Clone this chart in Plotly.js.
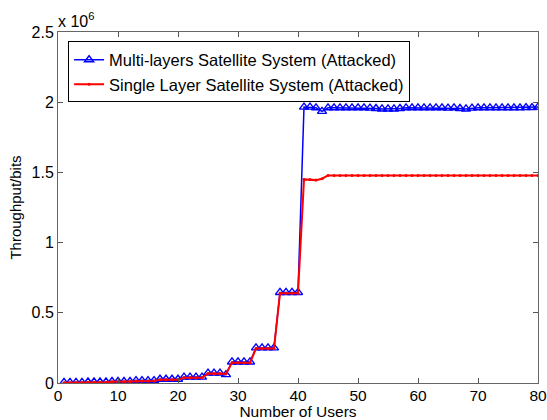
<!DOCTYPE html>
<html>
<head>
<meta charset="utf-8">
<script src="https://cdn.plot.ly/plotly-3.0.1.min.js"></script>
<style>body{margin:0;background:#fff}#chart{width:547px;height:420px}</style>
</head>
<body>
<div id="chart"></div>
<script>
// Number of users 1..80
var users = [1,2,3,4,5,6,7,8,9,10,11,12,13,14,15,16,17,18,19,20,21,22,23,24,25,26,27,28,29,30,31,32,33,34,35,36,37,38,39,40,41,42,43,44,45,46,47,48,49,50,51,52,53,54,55,56,57,58,59,60,61,62,63,64,65,66,67,68,69,70,71,72,73,74,75,76,77,78,79,80];
// Throughput in units of 1e6 bits
var multiLayer = [0.004,0.004,0.004,0.004, 0.007,0.007,0.007,0.007, 0.011,0.011,0.011,0.011, 0.017,0.017,0.017,0.017, 0.027,0.027,0.027,0.027, 0.042,0.042,0.042,0.042, 0.070,0.070,0.070,0.060, 0.150,0.150,0.150,0.150, 0.250,0.250,0.250,0.250, 0.645,0.645,0.645,0.645,
  1.965,1.965,1.960,1.935,1.960,1.960,1.960,1.960,1.960,1.960,1.960,1.958,1.955,1.952,1.952,1.952,1.955,1.960,1.960,1.960,1.960,1.960,1.960,1.960,1.958,1.960,1.955,1.952,1.958,1.960,1.960,1.960,1.960,1.960,1.960,1.960,1.960,1.962,1.962,1.965];
var singleLayer = [0.002,0.002,0.002,0.002, 0.005,0.005,0.005,0.005, 0.009,0.009,0.009,0.009, 0.014,0.014,0.014,0.014, 0.024,0.024,0.024,0.024, 0.037,0.037,0.037,0.037, 0.068,0.068,0.068,0.066, 0.145,0.145,0.145,0.145, 0.245,0.245,0.245,0.245, 0.640,0.640,0.640,0.640,
  1.450,1.450,1.445,1.455,1.478,1.478,1.478,1.478,1.478,1.478,1.478,1.478,1.478,1.478,1.478,1.478,1.478,1.478,1.478,1.478,1.478,1.478,1.478,1.478,1.478,1.478,1.478,1.478,1.478,1.478,1.478,1.478,1.478,1.478,1.478,1.478,1.478,1.478,1.478,1.478];
var xTicks = [0,10,20,30,40,50,60,70,80];
var yTicks = [0,0.5,1,1.5,2,2.5];
var yTickLabels = ['0','0.5','1','1.5','2','2.5'];

var fam = 'Liberation Sans, Arial, sans-serif';
var font = {family: fam, size: 16, color: '#000'};

var traces = [
  {x: users, y: multiLayer, type: 'scatter', mode: 'lines+markers',
   name: 'Multi-layers Satellite System (Attacked)',
   line: {color: '#0000ff', width: 1.5},
   marker: {symbol: 'triangle-up-open', size: 8, color: '#0000ff', line: {width: 1.4}}},
  {x: users, y: singleLayer, type: 'scatter', mode: 'lines+markers',
   name: 'Single Layer Satellite System (Attacked)',
   line: {color: '#ff0000', width: 2},
   marker: {symbol: 'circle', size: 3, color: '#ff0000'}}
];

var layout = {
  width: 547, height: 420,
  margin: {l: 58, r: 9, t: 32, b: 37, pad: 0},
  paper_bgcolor: '#fff', plot_bgcolor: '#fff',
  font: font,
  showlegend: true,
  legend: {x: 0.021, y: 0.973, xanchor: 'left', yanchor: 'top',
    bgcolor: '#fff', bordercolor: '#000', borderwidth: 1,
    font: {family: fam, size: 16.5, color: '#000'},
    tracegroupgap: 0, itemwidth: 30},
  xaxis: {range: [0, 80], tickvals: xTicks, ticktext: xTicks.map(String),
    ticks: 'inside', ticklen: 5, tickcolor: '#555', showgrid: false, zeroline: false,
    showline: true, linecolor: '#666', linewidth: 1, mirror: 'ticks',
    tickfont: {family: fam, size: 15.5, color: '#000'}, ticklabelstandoff: -2,
    title: {text: 'Number of Users', font: {family: fam, size: 15.5, color: '#000'}, standoff: 0}},
  yaxis: {range: [0, 2.5], tickvals: yTicks, ticktext: yTickLabels,
    ticks: 'inside', ticklen: 5, tickcolor: '#555', showgrid: false, zeroline: false,
    showline: true, linecolor: '#666', linewidth: 1, mirror: 'ticks',
    tickfont: font,
    title: {text: 'Throughput/bits', font: {family: fam, size: 15, color: '#000'}, standoff: 6}},
  annotations: [{xref: 'paper', yref: 'paper', x: -0.005, y: 1.0, xanchor: 'left', yanchor: 'bottom',
    text: 'x 10<sup>6</sup>', showarrow: false, font: font}]
};

Plotly.newPlot('chart', traces, layout, {displayModeBar: false, staticPlot: true});
</script>
</body>
</html>
